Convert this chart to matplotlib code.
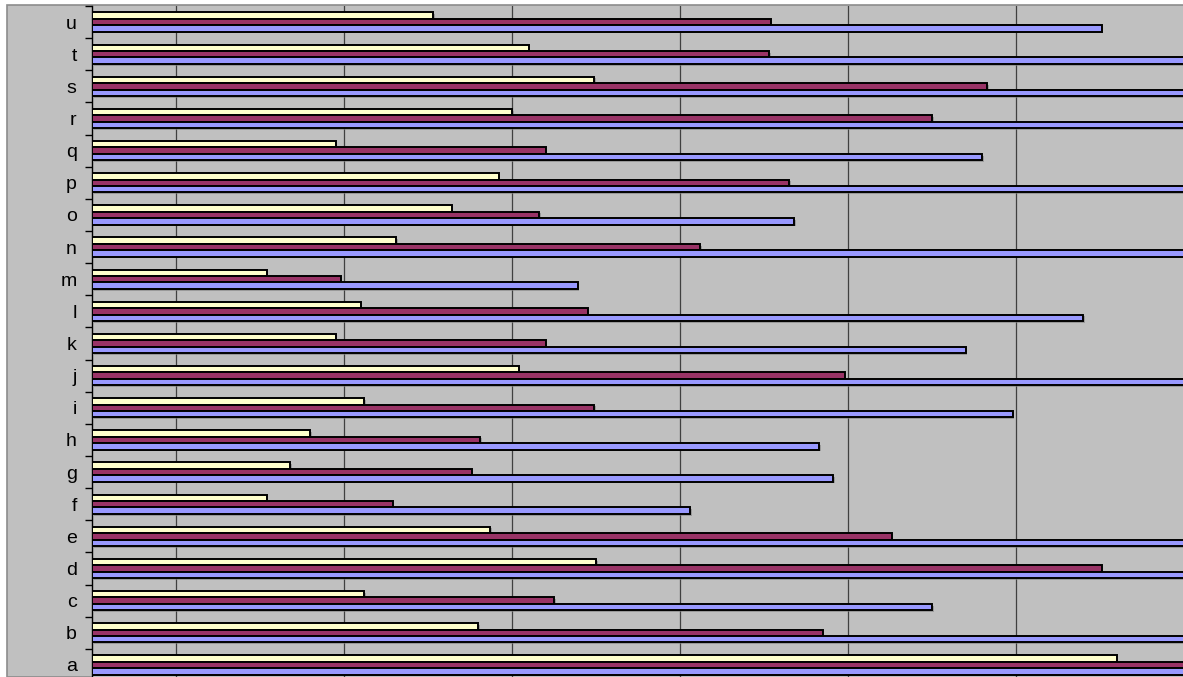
import numpy as np
import matplotlib
matplotlib.use("Agg")
import matplotlib.pyplot as plt
from matplotlib.patches import Rectangle
import matplotlib.patheffects as pe

plt.rcParams['font.family'] = ['Liberation Sans', 'DejaVu Sans']

# categories bottom to top
cats = list("abcdefghijklmnopqrstu")

# values (bars past the right edge get a big value)
yellow = [610, 230, 162, 300, 237, 104, 118, 130, 162, 254, 145, 160,
          104, 181, 214, 242, 145, 250, 299, 260, 203]
maroon = [700, 435, 275, 601, 476, 179, 226, 231, 299, 448, 270, 295,
          148, 362, 266, 415, 270, 500, 533, 403, 404]
blue = [700, 700, 500, 700, 700, 356, 441, 433, 548, 700, 520, 590,
        289, 700, 418, 700, 530, 700, 700, 700, 601]

W, H = 1183, 677
fig = plt.figure(figsize=(W/100, H/100), dpi=100)
fig.patch.set_facecolor('white')
fig.patches.append(Rectangle((7/W, 0), 1, 1 - 5/H, transform=fig.transFigure,
                             facecolor='#C0C0C0', edgecolor='#8c8c8c', lw=1.2, zorder=-5))

ax = fig.add_axes([92/W, -4/H, 1 - 92/W, 675/H])
ax.set_facecolor('#C0C0C0')

y = np.arange(len(cats))
h = 0.2
shadow = [pe.SimplePatchShadow(offset=(1.2, -1.2), shadow_rgbFace='#808080', alpha=0.6), pe.Normal()]
for vals, off, col in [(yellow, h, '#FFFFCC'), (maroon, 0, '#993366'), (blue, -h, '#9999FF')]:
    bars = ax.barh(y + off, vals, height=h, color=col, edgecolor='black', linewidth=1.4, zorder=3)
    for b in bars:
        b.set_path_effects(shadow)

ax.set_xlim(0, (W - 92) / 168 * 100)
ax.set_ylim(-0.5, len(cats) - 0.5)
ax.set_xticks(np.arange(50, 650, 100))
ax.tick_params(axis='x', length=0, labelbottom=False)
ax.grid(axis='x', color='#404040', lw=0.9, zorder=1)

ax.set_yticks(y)
ax.set_yticklabels(cats, fontsize=14)
ax.set_yticks(np.arange(-0.5, len(cats), 1), minor=True)
ax.tick_params(axis='y', which='major', length=0, pad=11)
ax.tick_params(axis='y', which='minor', length=5, width=1, color='black', direction='out')

for s in ['top', 'right', 'bottom']:
    ax.spines[s].set_visible(False)
ax.spines['left'].set_color('black')
ax.spines['left'].set_linewidth(1)

fig.savefig('out.png', dpi=100, facecolor=fig.get_facecolor())
